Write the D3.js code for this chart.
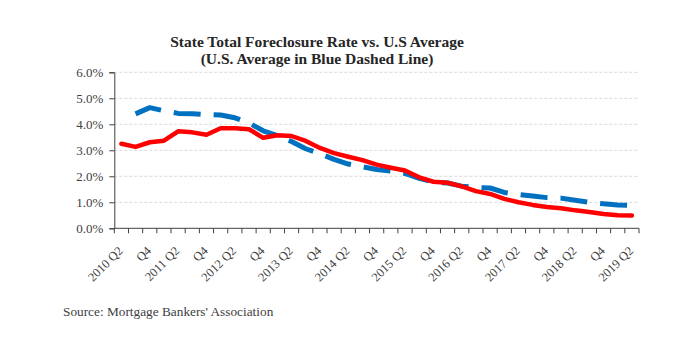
<!DOCTYPE html>
<html>
<head>
<meta charset="utf-8">
<script src="https://cdn.jsdelivr.net/npm/d3@7"></script>
<style>
  body { margin: 0; background: #fff; }
  svg { display: block; }
</style>
</head>
<body>
<div id="chart"></div>
<script>
var svgWidth = 698;
var svgHeight = 341;

// quarters 2010 Q2 .. 2019 Q2
var quarters = [];
for (var yr = 2010; yr <= 2019; yr++) {
  ["Q1", "Q2", "Q3", "Q4"].forEach(function(q) {
    var k = yr + " " + q;
    if ((yr == 2010 && q == "Q1") || (yr == 2019 && (q == "Q3" || q == "Q4"))) return;
    quarters.push(k);
  });
}

// state total foreclosure rate (%)
var stateRate = [3.25, 3.13, 3.31, 3.37, 3.73, 3.69, 3.60, 3.85, 3.85, 3.81,
                 3.48, 3.58, 3.55, 3.36, 3.09, 2.89, 2.75, 2.62, 2.45, 2.33,
                 2.22, 1.96, 1.79, 1.75, 1.61, 1.43, 1.32, 1.13, 1.00, 0.90,
                 0.82, 0.77, 0.69, 0.63, 0.55, 0.50, 0.49];

// U.S. average (%), no value for first quarter
var usRate = [null, 4.40, 4.64, 4.52, 4.42, 4.41, 4.37, 4.36, 4.25, 4.05,
              3.75, 3.56, 3.34, 3.06, 2.87, 2.65, 2.47, 2.37, 2.26, 2.20,
              2.11, 1.92, 1.78, 1.74, 1.62, 1.57, 1.55, 1.38, 1.30, 1.24,
              1.18, 1.16, 1.08, 1.00, 0.94, 0.90, 0.88];

var yTicks = [0, 1, 2, 3, 4, 5, 6];

var plotLeft = 114.3, plotRight = 639, plotTop = 72.3, plotBottom = 228.3;
var serif = "'Liberation Serif', 'Times New Roman', serif";

var svg = d3.select("#chart").append("svg")
  .attr("width", svgWidth)
  .attr("height", svgHeight);

var x = d3.scaleBand().domain(quarters).range([plotLeft, plotRight]);
var y = d3.scaleLinear().domain([0, 6]).range([plotBottom, plotTop]);

// gridlines
svg.selectAll(".grid")
  .data(yTicks.slice(1))
  .enter()
  .append("line")
  .attr("x1", plotLeft)
  .attr("x2", plotRight)
  .attr("y1", function(d) { return y(d); })
  .attr("y2", function(d) { return y(d); })
  .attr("stroke", "#d9d9d9")
  .attr("stroke-width", 1)
  .attr("stroke-dasharray", "3,2");

// y axis
var yAxis = d3.axisLeft(y)
  .tickValues(yTicks)
  .tickSize(5)
  .tickFormat(function(d) { return d.toFixed(1) + "%"; });
var gy = svg.append("g").attr("transform", "translate(" + plotLeft + ",0)").call(yAxis);
gy.select(".domain").attr("stroke", "#404040");
gy.selectAll(".tick line").attr("stroke", "#404040");
gy.selectAll("text")
  .attr("font-family", serif)
  .attr("font-size", "13px")
  .attr("fill", "#404040")
  .attr("x", -11);

// x axis: ticks between categories, labels every other quarter
var gx = svg.append("g").attr("transform", "translate(0," + plotBottom + ")");
gx.append("line")
  .attr("x1", plotLeft).attr("x2", plotRight)
  .attr("stroke", "#404040");
var bounds = quarters.map(function(q) { return x(q); }).concat([plotRight]);
gx.selectAll(".xt")
  .data(bounds)
  .enter()
  .append("line")
  .attr("x1", function(d) { return d; })
  .attr("x2", function(d) { return d; })
  .attr("y1", 0).attr("y2", 5)
  .attr("stroke", "#404040");

var labelled = quarters.filter(function(q, i) { return i % 2 == 0; });
gx.selectAll(".xl")
  .data(labelled)
  .enter()
  .append("text")
  .attr("transform", function(d) {
    return "translate(" + (x(d) + x.bandwidth() / 2 - 4) + ",17) rotate(-45)";
  })
  .attr("text-anchor", "end")
  .attr("dy", "0.7em")
  .attr("font-family", serif)
  .attr("font-size", "12.5px")
  .attr("fill", "#404040")
  .text(function(d) {
    return d.indexOf("Q4") > -1 ? "Q4" : d;
  });

var cx = function(i) { return x(quarters[i]) + x.bandwidth() / 2; };

var line = d3.line()
  .defined(function(d) { return d != null; })
  .x(function(d, i) { return cx(i); })
  .y(function(d) { return y(d); });

svg.append("path")
  .datum(usRate)
  .attr("d", line)
  .attr("fill", "none")
  .attr("stroke", "#0070C0")
  .attr("stroke-width", 5)
  .attr("stroke-linejoin", "round")
  .attr("stroke-dasharray", "27,13");

svg.append("path")
  .datum(stateRate)
  .attr("d", line)
  .attr("fill", "none")
  .attr("stroke", "#FF0000")
  .attr("stroke-width", 4.5)
  .attr("stroke-linejoin", "round")
  .attr("stroke-linecap", "round");

// title
var title = svg.append("text")
  .attr("text-anchor", "middle")
  .attr("font-family", serif)
  .attr("font-size", "15.5px")
  .attr("font-weight", "bold")
  .attr("fill", "#262626");
title.append("tspan").attr("x", 317).attr("y", 47).text("State Total Foreclosure Rate vs. U.S Average");
title.append("tspan").attr("x", 317).attr("y", 64).text("(U.S. Average in Blue Dashed Line)");

svg.append("text")
  .attr("x", 63)
  .attr("y", 316)
  .attr("font-family", serif)
  .attr("font-size", "13.3px")
  .attr("fill", "#404040")
  .text("Source: Mortgage Bankers' Association");
</script>
</body>
</html>
